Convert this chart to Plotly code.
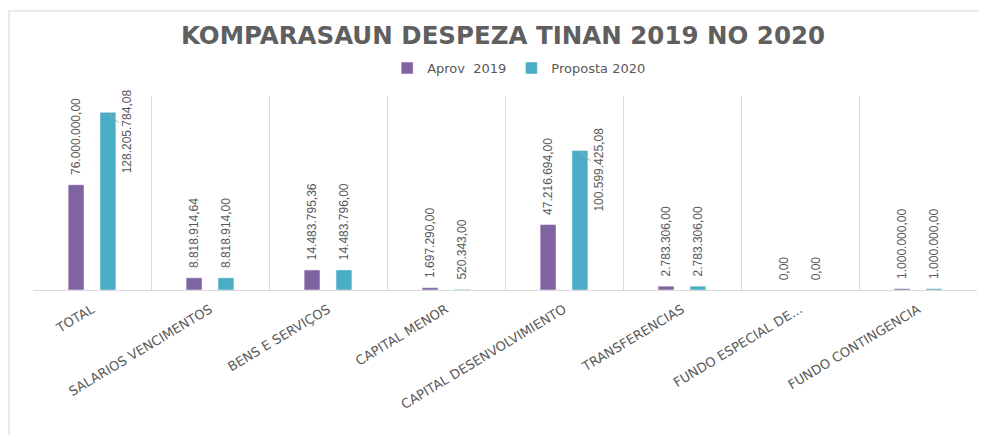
import plotly.graph_objects as go

categories = ["TOTAL", "SALARIOS VENCIMENTOS", "BENS E SERVIÇOS", "CAPITAL MENOR",
              "CAPITAL DESENVOLVIMIENTO", "TRANSFERENCIAS", "FUNDO ESPECIAL DE...",
              "FUNDO CONTINGENCIA"]
aprov_2019 = [76000000.00, 8818914.64, 14483795.36, 1697290.00,
              47216694.00, 2783306.00, 0.00, 1000000.00]
proposta_2020 = [128205784.08, 8818914.00, 14483796.00, 520343.00,
                 100599425.08, 2783306.00, 0.00, 1000000.00]
series_names = ["Aprov  2019", "Proposta 2020"]
# labels placed beside the bar with a leader line (as in the source chart)
leader_labels_2020 = ["TOTAL", "CAPITAL DESENVOLVIMIENTO"]

PURPLE = "#8064A2"
TEAL = "#4BACC6"
GRAY = "#595959"
GRID = "#d9d9d9"
NUM_FONT = dict(family="Liberation Sans Narrow, Arial Narrow, sans-serif", size=12, color=GRAY)


def fmt(v):
    s = f"{v:,.2f}"
    return s.replace(",", "X").replace(".", ",").replace("X", ".")


def lab(v):
    return "\u00a0\u00a0" + fmt(v)


text19 = [lab(v) for v in aprov_2019]
text20 = [("" if c in leader_labels_2020 else lab(v)) for c, v in zip(categories, proposta_2020)]

fig = go.Figure()
fig.add_trace(go.Bar(x=categories, y=aprov_2019, name=series_names[0], marker_color=PURPLE,
                     marker_line=dict(color="white", width=0.5),
                     text=text19, textposition="outside", textangle=-90,
                     textfont=NUM_FONT, cliponaxis=False, constraintext="none"))
fig.add_trace(go.Bar(x=categories, y=proposta_2020, name=series_names[1], marker_color=TEAL,
                     marker_line=dict(color="white", width=0.5),
                     text=text20, textposition="outside", textangle=-90,
                     textfont=NUM_FONT, cliponaxis=False, constraintext="none"))

annotations = []
for c, v in zip(categories, proposta_2020):
    if c in leader_labels_2020:
        annotations.append(dict(x=c, y=v, xref="x", yref="y", xshift=16,
                                text=fmt(v), textangle=-90, font=NUM_FONT,
                                showarrow=True, arrowhead=0, arrowwidth=1,
                                arrowcolor="#a6a6a6", ax=19, ay=19, standoff=0))

# page body adds an 8px offset; figure sized to fit the window
OFF = 8
W, H = 987 - OFF, 435 - OFF
ml, mt = 33 - OFF, 96 - OFF
plot_right, plot_bottom = 977 - OFF, 290 - OFF
mr, mb = W - plot_right, H - plot_bottom
pw, ph = plot_right - ml, plot_bottom - mt

# outer chart frame (cropped at right/bottom in the source)
shapes = [dict(type="rect", xref="paper", yref="paper",
               x0=(9 - OFF - ml) / pw, x1=(W + 20 - ml) / pw,
               y0=(plot_bottom - (H + 20)) / ph, y1=(plot_bottom - (11 - OFF)) / ph,
               line=dict(color="#e3e3e3", width=1.5), fillcolor="rgba(0,0,0,0)", layer="below")]

fig.update_layout(
    width=W, height=H,
    margin=dict(l=ml, r=mr, t=mt, b=mb, autoexpand=False),
    paper_bgcolor="white", plot_bgcolor="white",
    title=dict(text="<b>KOMPARASAUN DESPEZA TINAN 2019 NO 2020</b>",
               x=(503 - OFF) / W, xanchor="center", y=1 - (35 - OFF) / H, yanchor="middle",
               font=dict(family="DejaVu Sans, sans-serif", size=24.5, color="#5f5f5f")),
    legend=dict(orientation="h", x=0.515, xanchor="center", y=1.144, yanchor="middle",
                font=dict(family="DejaVu Sans, sans-serif", size=13, color=GRAY),
                itemwidth=30, traceorder="normal"),
    barmode="group", bargap=0.46, bargroupgap=0.5,
    xaxis=dict(type="category", tickson="boundaries", showgrid=True, gridcolor=GRID, gridwidth=1,
               showline=True, linecolor=GRID, linewidth=1, ticks="", tickangle=-31,
               automargin=False, ticklabelstandoff=6,
               tickfont=dict(family="DejaVu Sans, sans-serif", size=13, color=GRAY)),
    yaxis=dict(range=[0, 140000000], showticklabels=False, showgrid=False, zeroline=False,
               showline=False, ticks="", automargin=False),
    annotations=annotations,
    shapes=shapes,
    showlegend=True,
)

fig.write_html("out.html")
